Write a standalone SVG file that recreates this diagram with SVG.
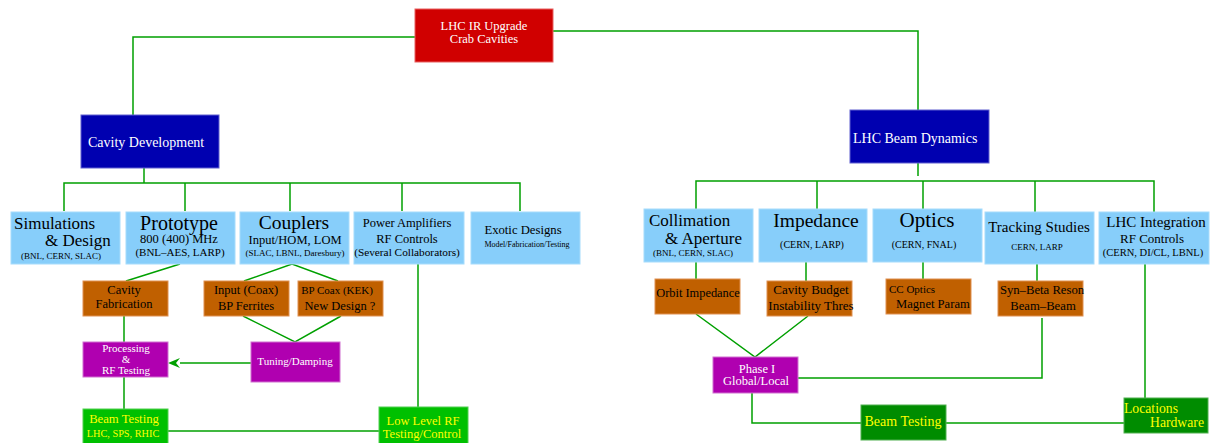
<svg xmlns="http://www.w3.org/2000/svg" width="1211" height="443" viewBox="0 0 1211 443" font-family="'Liberation Serif','Times New Roman',serif">
<defs>
<style>
text{font-family:"Liberation Serif","Times New Roman",serif;}
.lb{fill:#87cefa;stroke:#a6dcfc;stroke-width:1}
.br{fill:#c06000;stroke:#e09050;stroke-width:1}
.mg{fill:#b000b0;stroke:#d070d0;stroke-width:1}
.gr{fill:#00c000;stroke:#50d050;stroke-width:1}
.dg{fill:#008c00;stroke:#50b050;stroke-width:1}
.rd{fill:#d00000;stroke:#e86060;stroke-width:1}
.bl{fill:#0000b0;stroke:#6060d0;stroke-width:1}
.k{fill:#000}
.w{fill:#fff}
.y{fill:#ffff00}
.c line,.c polyline{stroke:#00a000;stroke-width:1.5;fill:none}
</style>
</defs>
<rect width="1211" height="443" fill="#fff"/>

<g id="connectors" class="c">
<polyline points="415,37 133,37 133,115"/>
<polyline points="553,31 918,31 918,110"/>
<line x1="144" y1="168" x2="144" y2="183"/>
<polyline points="64,211 64,183 520,183 520,211"/>
<line x1="185" y1="183" x2="185" y2="211"/>
<line x1="290" y1="183" x2="290" y2="211"/>
<line x1="402" y1="183" x2="402" y2="211"/>
<line x1="918" y1="163" x2="918" y2="176"/>
<polyline points="696,209 696,181 1154,181 1154,212"/>
<line x1="817" y1="181" x2="817" y2="209"/>
<line x1="923" y1="181" x2="923" y2="209"/>
<line x1="1035" y1="181" x2="1035" y2="212"/>
<line x1="180" y1="264" x2="126" y2="281"/>
<polyline points="244,281 292,264 338,281"/>
<polyline points="243,316 295,342 341,316"/>
<line x1="124" y1="316" x2="124" y2="342"/>
<line x1="251" y1="363" x2="180" y2="363"/>
<path d="M168,363 L180,358 L176,363 L180,368 Z" fill="#00a000" stroke="none"/>
<line x1="124" y1="377" x2="124" y2="409"/>
<line x1="168" y1="431" x2="379" y2="431"/>
<line x1="418" y1="264" x2="418" y2="407"/>
<line x1="696" y1="262" x2="696" y2="279"/>
<line x1="806" y1="262" x2="806" y2="281"/>
<line x1="923" y1="262" x2="923" y2="279"/>
<line x1="1037" y1="264" x2="1037" y2="281"/>
<line x1="1145" y1="264" x2="1145" y2="398"/>
<polyline points="696,314 755,357 808,316"/>
<polyline points="1042,318 1042,378 798,378"/>
<polyline points="752,393 752,423 861,423"/>
<line x1="946" y1="423" x2="1124" y2="423"/>
</g>

<g id="n-root"><rect class="rd" x="415" y="9" width="138" height="53"/>
<text class="w" font-size="12.5" text-anchor="middle" x="484" y="30">LHC IR Upgrade</text>
<text class="w" font-size="12.5" text-anchor="middle" x="484" y="43">Crab Cavities</text></g>

<g id="n-cavdev"><rect class="bl" x="81" y="115" width="138" height="53"/>
<text class="w" font-size="14" x="88" y="147">Cavity Development</text></g>

<g id="n-beamdyn"><rect class="bl" x="850" y="110" width="139" height="53"/>
<text class="w" font-size="14" x="853" y="143">LHC Beam Dynamics</text></g>

<g id="n-sim"><rect class="lb" x="11" y="212" width="109" height="52"/>
<text class="k" font-size="17" x="14" y="229">Simulations</text>
<text class="k" font-size="17" x="45" y="246">&amp; Design</text>
<text class="k" font-size="9" x="21" y="259">(BNL, CERN, SLAC)</text></g>

<g id="n-proto"><rect class="lb" x="126" y="212" width="109" height="52"/>
<text class="k" font-size="20" text-anchor="middle" x="179" y="230">Prototype</text>
<text class="k" font-size="12.5" text-anchor="middle" x="179" y="243">800 (400) MHz</text>
<text class="k" font-size="11" text-anchor="middle" x="180" y="256">(BNL–AES, LARP)</text></g>

<g id="n-coup"><rect class="lb" x="240" y="212" width="109" height="52"/>
<text class="k" font-size="19.5" text-anchor="middle" x="294" y="229">Couplers</text>
<text class="k" font-size="12.5" text-anchor="middle" x="295" y="244">Input/HOM, LOM</text>
<text class="k" font-size="9" text-anchor="middle" x="295" y="256">(SLAC, LBNL, Daresbury)</text></g>

<g id="n-power"><rect class="lb" x="354" y="212" width="110" height="52"/>
<text class="k" font-size="12.5" text-anchor="middle" x="407" y="227">Power Amplifiers</text>
<text class="k" font-size="12.5" text-anchor="middle" x="407" y="243">RF Controls</text>
<text class="k" font-size="11.3" text-anchor="middle" x="407" y="256">(Several Collaborators)</text></g>

<g id="n-exotic"><rect class="lb" x="471" y="212" width="109" height="52"/>
<text class="k" font-size="12.7" text-anchor="middle" x="523" y="234">Exotic Designs</text>
<text class="k" font-size="8" text-anchor="middle" x="527" y="247">Model/Fabrication/Testing</text></g>

<g id="n-coll"><rect class="lb" x="644" y="209" width="109" height="53"/>
<text class="k" font-size="17" x="649" y="226">Collimation</text>
<text class="k" font-size="17" x="665" y="244">&amp; Aperture</text>
<text class="k" font-size="9" x="653" y="256">(BNL, CERN, SLAC)</text></g>

<g id="n-imp"><rect class="lb" x="759" y="209" width="108" height="53"/>
<text class="k" font-size="19.5" text-anchor="middle" x="816" y="227">Impedance</text>
<text class="k" font-size="10" text-anchor="middle" x="812" y="248">(CERN, LARP)</text></g>

<g id="n-optics"><rect class="lb" x="873" y="209" width="109" height="53"/>
<text class="k" font-size="21" text-anchor="middle" x="927" y="227">Optics</text>
<text class="k" font-size="10" text-anchor="middle" x="924" y="248">(CERN, FNAL)</text></g>

<g id="n-track"><rect class="lb" x="985" y="212" width="109" height="52"/>
<text class="k" font-size="15" text-anchor="middle" x="1039" y="232">Tracking Studies</text>
<text class="k" font-size="9" text-anchor="middle" x="1037" y="250">CERN, LARP</text></g>

<g id="n-integ"><rect class="lb" x="1099" y="212" width="110" height="52"/>
<text class="k" font-size="15" text-anchor="middle" x="1156" y="227">LHC Integration</text>
<text class="k" font-size="13" text-anchor="middle" x="1152" y="243">RF Controls</text>
<text class="k" font-size="10.5" text-anchor="middle" x="1153" y="256">(CERN, DI/CL, LBNL)</text></g>

<g id="n-cavfab"><rect class="br" x="83" y="281" width="85" height="35"/>
<text class="k" font-size="12.5" text-anchor="middle" x="124" y="294">Cavity</text>
<text class="k" font-size="12.5" text-anchor="middle" x="124" y="308">Fabrication</text></g>

<g id="n-input"><rect class="br" x="204" y="281" width="85" height="35"/>
<text class="k" font-size="12.5" text-anchor="middle" x="246" y="294">Input (Coax)</text>
<text class="k" font-size="12.5" text-anchor="middle" x="246" y="310">BP Ferrites</text></g>

<g id="n-bpcoax"><rect class="br" x="298" y="281" width="85" height="35"/>
<text class="k" font-size="11" text-anchor="middle" x="337" y="294">BP Coax (KEK)</text>
<text class="k" font-size="12.5" text-anchor="middle" x="340" y="310">New Design ?</text></g>

<g id="n-proc"><rect class="mg" x="83" y="342" width="85" height="35"/>
<text class="w" font-size="11" text-anchor="middle"><tspan x="126" y="352">Processing</tspan><tspan x="126" y="363">&amp;</tspan><tspan x="126" y="374">RF Testing</tspan></text></g>

<g id="n-tuning"><rect class="mg" x="251" y="342" width="89" height="40"/>
<text class="w" font-size="11" text-anchor="middle" x="295" y="365">Tuning/Damping</text></g>

<g id="n-beamtest1"><rect class="gr" x="83" y="409" width="85" height="36"/>
<text class="y" font-size="12.7" text-anchor="middle" x="124" y="423">Beam Testing</text>
<text class="y" font-size="10.3" text-anchor="middle" x="123" y="437">LHC, SPS, RHIC</text></g>

<g id="n-llrf"><rect class="gr" x="379" y="407" width="89" height="38"/>
<text class="y" font-size="12.5" text-anchor="middle" x="423" y="425">Low Level RF</text>
<text class="y" font-size="12.5" text-anchor="middle" x="422" y="438">Testing/Control</text></g>

<g id="n-orbit"><rect class="br" x="655" y="279" width="85" height="35"/>
<text class="k" font-size="12.4" text-anchor="middle" x="698" y="297">Orbit Impedance</text></g>

<g id="n-budget"><rect class="br" x="767" y="281" width="85" height="35"/>
<text class="k" font-size="13" text-anchor="middle" x="811" y="294">Cavity Budget</text>
<text class="k" font-size="13" text-anchor="middle" x="811" y="310">Instability Thres</text></g>

<g id="n-ccoptics"><rect class="br" x="886" y="279" width="85" height="35"/>
<text class="k" font-size="11" x="889" y="293">CC Optics</text>
<text class="k" font-size="12.6" x="896" y="308">Magnet Param</text></g>

<g id="n-synbeta"><rect class="br" x="998" y="281" width="85" height="35"/>
<text class="k" font-size="12.7" text-anchor="middle" x="1042" y="294">Syn–Beta Reson</text>
<text class="k" font-size="12.7" text-anchor="middle" x="1043" y="310">Beam–Beam</text></g>

<g id="n-phase"><rect class="mg" x="713" y="357" width="85" height="36"/>
<text class="w" font-size="12.5" text-anchor="middle"><tspan x="757" y="373">Phase I</tspan><tspan x="756" y="385">Global/Local</tspan></text></g>

<g id="n-beamtest2"><rect class="dg" x="861" y="405" width="85" height="35"/>
<text class="y" font-size="14" text-anchor="middle" x="903" y="426">Beam Testing</text></g>

<g id="n-locations"><rect class="dg" x="1124" y="398" width="84" height="35"/>
<text class="y" font-size="13.7" x="1124" y="413">Locations</text>
<text class="y" font-size="13.7" x="1150" y="427">Hardware</text></g>
</svg>
